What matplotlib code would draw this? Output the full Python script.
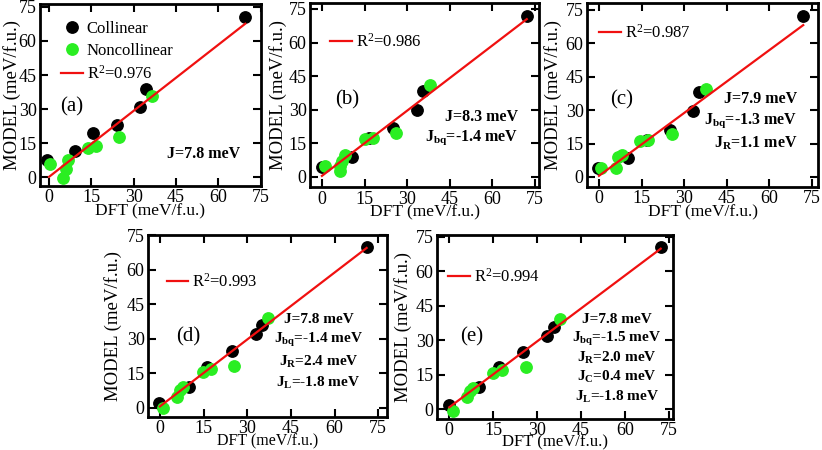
import matplotlib
matplotlib.use("Agg")
import matplotlib.pyplot as plt
import numpy as np
from matplotlib.lines import Line2D

plt.rcParams['font.family'] = ['Liberation Serif', 'DejaVu Serif']
plt.rcParams['mathtext.fontset'] = 'custom'
plt.rcParams['mathtext.rm'] = 'Liberation Serif'
plt.rcParams['mathtext.it'] = 'Liberation Serif:italic'
plt.rcParams['mathtext.bf'] = 'Liberation Serif:bold'

# ---------------- data ----------------
ticks = [0, 15, 30, 45, 60, 75]

# panel (a)
dft_col_a = [-0.8, 9.2, 15.6, 24.0, 32.3, 34.4, 69.6]
mod_col_a = [7.5, 11.5, 19.3, 22.9, 30.7, 38.7, 70.4]
dft_non_a = [0.4, 5.0, 6.0, 6.9, 13.8, 16.8, 24.8, 36.5]
mod_non_a = [5.8, -0.6, 3.4, 7.5, 12.9, 13.8, 17.5, 35.7]
fit_a = (0.970, 0.1)
r2_a = "0.976"
params_a = ["J=7.8 meV"]

# panel (b)
dft_col_b = [-0.1, 10.5, 16.5, 25.1, 33.6, 35.7, 72.1]
mod_col_b = [4.6, 8.8, 17.2, 21.7, 29.9, 38.5, 71.9]
dft_non_b = [1.1, 6.3, 6.5, 6.9, 8.1, 15.1, 17.8, 26.1, 38.0]
mod_non_b = [4.9, 2.8, 5.0, 7.3, 9.8, 17.0, 17.3, 19.8, 41.1]
fit_b = (0.970, 0.5)
r2_b = "0.986"
params_b = ["J=8.3 meV", "bq|-1.4"]

# panel (c)
dft_col_c = [-0.2, 10.3, 16.8, 25.0, 33.2, 35.3, 71.9]
mod_col_c = [3.9, 8.4, 16.6, 21.1, 29.8, 38.3, 72.3]
dft_non_c = [0.9, 6.0, 6.8, 8.0, 14.4, 17.4, 25.6, 37.7]
mod_non_c = [4.2, 3.9, 8.8, 9.9, 16.3, 16.6, 19.2, 39.4]
fit_c = (0.940, 0.5)
r2_c = "0.987"
params_c = ["J=7.9 meV", "bq|-1.3", "R|1.1"]

# panel (d)
dft_col_d = [-0.2, 10.1, 16.3, 24.6, 33.0, 34.9, 71.0]
mod_col_d = [1.9, 8.9, 17.6, 24.8, 32.0, 36.0, 69.7]
dft_non_d = [0.9, 5.9, 6.9, 8.0, 14.7, 17.4, 25.4, 37.2]
mod_non_d = [-0.3, 4.8, 7.7, 8.9, 15.7, 16.7, 18.1, 38.9]
fit_d = (0.970, 0.6)
r2_d = "0.993"
params_d = ["J=7.8 meV", "bq|-1.4", "R|2.4", "L|-1.8"]

# panel (e)
dft_col_e = [0.0, 10.2, 17.1, 25.3, 33.4, 35.7, 72.2]
mod_col_e = [1.9, 9.8, 18.3, 25.0, 31.9, 35.6, 70.7]
dft_non_e = [1.2, 6.1, 7.1, 8.2, 14.8, 17.9, 26.2, 37.8]
mod_non_e = [-0.6, 5.2, 8.1, 9.1, 15.7, 17.1, 18.3, 39.1]
fit_e = (0.955, 0.9)
r2_e = "0.994"
params_e = ["J=7.8 meV", "bq|-1.5", "R|2.0", "C|0.4", "L|-1.8"]

# ---------------- layout ----------------
W, H = 822, 450
fig = plt.figure(figsize=(W / 100, H / 100), dpi=100)

RED = '#f01010'
GREEN = '#2aee22'


def px_axes(l, r, t, b):
    return fig.add_axes([l / W, 1 - b / H, (r - l) / W, (b - t) / H])


panels = [
    dict(box=(40, 260.5, 4, 185.7), xlim=(-3.2, 75), ylim=(-3.8, 76.3),
         col=(dft_col_a, mod_col_a), non=(dft_non_a, mod_non_a), fit=fit_a,
         r2=r2_a, params=params_a, label="(a)", lab_xy=(0.145, 0.432),
         leg=(0.095, 0.905), full_legend=True, par_x=0.741, par_y=[0.175],
         par_ha='center', fs_par=11.5, ylab_x=-0.088, xlab_y=-0.095, fs_xl=12.5),
    dict(box=(310, 539, 3.3, 187.3), xlim=(-4.2, 76.4), ylim=(-4.6, 77.5),
         col=(dft_col_b, mod_col_b), non=(dft_non_b, mod_non_b), fit=fit_b,
         r2=r2_b, params=params_b, label="(b)", lab_xy=(0.163, 0.474),
         leg=(0.087, 0.84), full_legend=False, par_x=0.91, par_y=[0.382, 0.268],
         par_ha='right', fs_par=11.5, ylab_x=-0.10, xlab_y=-0.095, fs_xl=12.5),
    dict(box=(587, 818, 3, 187), xlim=(-4.2, 77.1), ylim=(-4.5, 78),
         col=(dft_col_c, mod_col_c), non=(dft_non_c, mod_non_c), fit=fit_c,
         r2=r2_c, params=params_c, label="(c)", lab_xy=(0.15, 0.473),
         leg=(0.052, 0.888), full_legend=False, par_x=0.91,
         par_y=[0.48, 0.362, 0.239], par_ha='right', fs_par=11.5,
         ylab_x=-0.108, xlab_y=-0.095, fs_xl=12.5),
    dict(box=(148, 387, 235, 417), xlim=(-4.1, 78), ylim=(-4, 75.1),
         col=(dft_col_d, mod_col_d), non=(dft_non_d, mod_non_d), fit=fit_d,
         r2=r2_d, params=params_d, label="(d)", lab_xy=(0.169, 0.441),
         leg=(0.078, 0.79), full_legend=False, par_x=0.713,
         par_y=[0.537, 0.423, 0.304, 0.185], par_ha='center', fs_par=11,
         ylab_x=-0.109, xlab_y=-0.09, fs_xl=11.5),
    dict(box=(437, 673, 235, 419), xlim=(-4.2, 76.4), ylim=(-4.2, 75.8),
         col=(dft_col_e, mod_col_e), non=(dft_non_e, mod_non_e), fit=fit_e,
         r2=r2_e, params=params_e, label="(e)", lab_xy=(0.147, 0.444),
         leg=(0.047, 0.822), full_legend=False, par_x=0.761,
         par_y=[0.542, 0.433, 0.333, 0.23, 0.121], par_ha='center', fs_par=11,
         ylab_x=-0.106, xlab_y=-0.082, fs_xl=12),
]

for p in panels:
    ax = px_axes(*p['box'])
    cx, cy = p['col']
    nx, ny = p['non']
    ax.plot(cx, cy, 'o', color='black', ms=8.2, mec='black', zorder=3)
    ax.plot(nx, ny, 'o', color=GREEN, ms=8.2, mec=GREEN, zorder=4)
    slope, icpt = p['fit']
    xs = np.array([0.0, max(cx)])
    ax.plot(xs, slope * xs + icpt, '-', color=RED, lw=1.6, zorder=5)

    ax.set_xlim(*p['xlim'])
    ax.set_ylim(*p['ylim'])
    ax.set_xticks(ticks)
    ax.set_yticks(ticks)
    ax.tick_params(direction='in', top=True, right=True, length=6, width=1.5,
                   labelsize=13, pad=2.5)
    for s in ax.spines.values():
        s.set_linewidth(2)
    ax.set_xlabel("DFT (meV/f.u.)", fontsize=p['fs_xl'])
    ax.set_ylabel("MODEL (meV/f.u.)", fontsize=13.5)
    ax.xaxis.set_label_coords(0.5, p['xlab_y'])
    ax.yaxis.set_label_coords(p['ylab_x'], 0.5)

    handles = []
    if p['full_legend']:
        handles.append(Line2D([], [], ls='none', marker='o', color='black', ms=8.2,
                              label='Collinear'))
        handles.append(Line2D([], [], ls='none', marker='o', color=GREEN, ms=8.2,
                              label='Noncollinear'))
    handles.append(Line2D([], [], color=RED, lw=1.6, label=r"R$^2$=" + p['r2']))
    ax.legend(handles=handles, loc='upper left', bbox_to_anchor=p['leg'],
              frameon=False, fontsize=12, borderpad=0, borderaxespad=0,
              handlelength=1.3, handletextpad=0.25, labelspacing=0.35)

    ax.text(*p['lab_xy'], p['label'], transform=ax.transAxes, fontsize=15,
            ha='center', va='center')

    for txt, yy in zip(p['params'], p['par_y']):
        if '|' in txt:
            sub, val = txt.split('|')
            s = r"$\mathbf{J_{" + sub + r"}}$=" + val + " meV"
        else:
            s = txt
        ax.text(p['par_x'], yy, s, transform=ax.transAxes, fontsize=p['fs_par'],
                fontweight='bold', ha=p['par_ha'], va='center')

fig.savefig("out.png", dpi=100)
